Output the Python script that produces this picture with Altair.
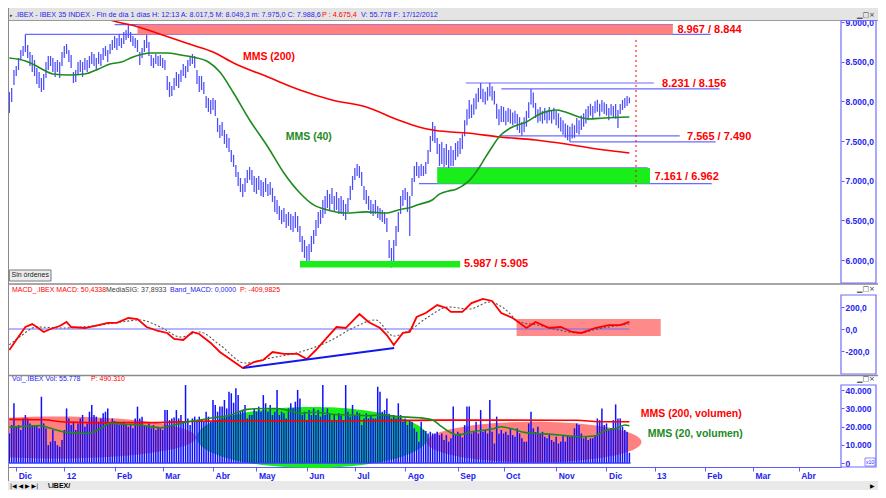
import json
import altair as alt
import pandas as pd

FONT = "Liberation Sans"

# ---------------- categories / ticks ----------------
# x = trading-session index, 0 = first session of December 2011
MONTH_POS = [0, 21, 43, 64, 86, 105, 127, 148, 170, 193, 213, 236, 258, 279, 301, 322, 342]
MONTH_LAB = ["Dic", "12", "Feb", "Mar", "Abr", "May", "Jun", "Jul", "Ago",
             "Sep", "Oct", "Nov", "Dic", "13", "Feb", "Mar", "Abr"]
PRICE_TICKS = [6000, 6500, 7000, 7500, 8000, 8500, 9000]
MACD_TICKS = [-200, 0, 200]
VOL_TICKS = [0, 10, 20, 30, 40]

# ---------------- daily bars (first bar = session -3) ----------------
FIRST_DAY = -3
HIGH = [8118, 8168, 8395, 8445, 8546, 8647, 8697, 8844, 8710, 8622, 8584, 8521, 8420, 8370, 8294, 8345, 8496, 8571, 8571, 8546, 8496, 8521, 8496, 8622,
        8697, 8723, 8647, 8584, 8370, 8395, 8496, 8521, 8496, 8546, 8521, 8571, 8622, 8597, 8546, 8622, 8597, 8672, 8697, 8647, 8723, 8773,
        8823, 8798, 8849, 8798, 8874, 8899, 8967, 8874, 8823, 8798, 8773, 8622, 8672, 8773, 8836, 8748, 8584, 8546, 8597, 8571, 8584,
        8546, 8521, 8319, 8244, 8193, 8294, 8370, 8345, 8395, 8471, 8445, 8521, 8571, 8597, 8571, 8395, 8319, 8319, 8244, 8067, 8042, 8017,
        8042, 8017, 7790, 7702, 7740, 7639, 7589, 7538, 7387, 7324, 7198, 7110, 7034, 6959, 7034, 7135, 7173, 7135, 7059,
        7034, 7059, 7009, 6984, 7034, 6959, 6984, 6908, 6807, 6757, 6681, 6631, 6656, 6581, 6606, 6581, 6555, 6606, 6555, 6429, 6303, 6253,
        6177, 6203, 6303, 6379, 6505, 6606, 6631, 6757, 6807, 6883, 6833, 6908, 6807, 6858, 6782, 6807, 6757, 6707, 6782, 6933, 7059,
        7160, 7210, 7185, 7110, 6933, 6883, 6807, 6757, 6707, 6757, 6681, 6656, 6631, 6606, 6530, 6253, 6152, 6253, 6429, 6606, 6807, 6883,
        6908, 6858, 6807, 7034, 7185, 7236, 7185, 7210, 7185, 7236, 7387, 7564, 7740, 7690, 7538, 7463, 7488, 7412, 7463, 7387, 7437, 7387, 7475,
        7500, 7538, 7590, 7760, 7900, 8017, 7960, 8040, 8100, 8170, 8231, 8160, 8120, 8180, 8231, 8190, 8130, 7970, 7900, 7940,
        7930, 7880, 7916, 7900, 7860, 7880, 7840, 7800, 7740, 7800, 7880, 7990, 8156, 8110, 7980, 7900, 7930, 7880, 7916, 7880, 7930, 7890, 7920,
        7880, 7850, 7800, 7760, 7720, 7700, 7680, 7720, 7700, 7790, 7760, 7820, 7850, 7900, 7940, 7970, 7940, 8000, 8020, 7970, 8017, 7990,
        7967, 7916, 7967, 7940, 7967, 7891, 7967, 8017, 8042, 8067, 8049]
LOW = [7853, 7992, 8206, 8319, 8395, 8521, 8571, 8622, 8546, 8445, 8370, 8319, 8219, 8168, 8118, 8143, 8294, 8395, 8445, 8370, 8307, 8370, 8294, 8445,
       8546, 8597, 8496, 8420, 8231, 8244, 8332, 8370, 8307, 8395, 8370, 8420, 8471, 8445, 8395, 8471, 8445, 8521, 8571, 8496, 8597, 8647,
       8672, 8647, 8697, 8672, 8723, 8773, 8798, 8748, 8697, 8672, 8622, 8458, 8546, 8622, 8672, 8571, 8445, 8420, 8471, 8445, 8445,
       8420, 8395, 8143, 8055, 8067, 8143, 8193, 8168, 8244, 8319, 8294, 8370, 8445, 8471, 8420, 8219, 8118, 8143, 8093, 7916, 7866, 7841,
       7891, 7816, 7614, 7538, 7564, 7463, 7412, 7362, 7236, 7173, 7047, 6933, 6858, 6795, 6858, 6971, 7009, 6946, 6858,
       6833, 6883, 6807, 6795, 6858, 6807, 6820, 6732, 6606, 6581, 6505, 6455, 6480, 6404, 6429, 6379, 6354, 6404, 6354, 6228, 6102, 6026,
       5987, 5990, 6102, 6203, 6303, 6404, 6455, 6530, 6581, 6656, 6631, 6707, 6606, 6631, 6581, 6581, 6555, 6505, 6606, 6757, 6883,
       7009, 7059, 7034, 6933, 6757, 6707, 6631, 6581, 6555, 6581, 6530, 6505, 6480, 6455, 6354, 6026, 5905, 5976, 6177, 6354, 6581, 6681,
       6757, 6606, 6303, 6807, 6984, 7059, 7034, 7059, 7059, 7084, 7210, 7362, 7500, 7475, 7336, 7185, 7210, 7173, 7198, 7160, 7185, 7185, 7260,
       7300, 7336, 7400, 7560, 7700, 7780, 7790, 7830, 7900, 7990, 8030, 7990, 7960, 8010, 8060, 8010, 7960, 7780, 7700, 7740,
       7740, 7700, 7740, 7720, 7700, 7720, 7640, 7600, 7565, 7610, 7680, 7790, 7960, 7920, 7790, 7730, 7750, 7720, 7760, 7720, 7760, 7720, 7770,
       7700, 7660, 7620, 7580, 7540, 7510, 7490, 7530, 7540, 7600, 7580, 7640, 7680, 7720, 7760, 7820, 7790, 7850, 7870, 7810, 7870, 7840,
       7820, 7760, 7820, 7790, 7780, 7664, 7840, 7890, 7916, 7942, 7975]
VOLUME_K = [16.2, 20.8, 32.7, 19.9, 20.8, 18.1, 24.4, 26.3, 24.4, 21.7, 20.8, 20.8, 20.8, 19.0, 36.3, 21.7, 19.0, 9.8, 11.7, 18.1, 12.0,
            9.8, 8.9, 12.6, 18.1, 29.9, 24.4, 20.8, 22.6, 18.1, 21.7, 24.4, 26.3, 19.9, 21.7, 28.1, 31.8, 26.3, 25.4, 22.6, 24.4, 27.2, 28.1, 29.9, 21.7, 24.4, 23.0,
            22.6, 20.8, 21.7, 22.6, 20.8, 19.9, 20.8, 19.0, 24.4, 30.9, 24.4, 25.4, 20.8, 19.9, 21.7, 19.0, 20.8, 18.1, 19.9, 19.0, 18.1, 29.0, 29.0, 23.5, 24.4, 25.0,
            29.0, 24.4, 26.3, 22.6, 42.7, 24.4, 20.8, 24.4, 25.4, 22.6, 25.4, 23.5, 22.6, 28.1, 25.4, 22.6, 34.5, 31.8, 28.1, 30.9, 30.9, 34.5, 29.9, 39.1, 38.2, 33.0,
            40.9, 37.2, 28.1, 29.0, 31.8, 24.4, 26.3, 26.3, 29.9, 28.1, 30.9, 28.1, 37.2, 32.7, 28.1, 31.8, 26.3, 28.1, 40.0, 26.3, 28.1, 27.2, 24.4, 29.9, 32.7, 30.0,
            33.6, 40.0, 35.4, 26.3, 28.1, 23.5, 29.0, 26.3, 29.9, 26.3, 29.0, 25.4, 42.7, 26.3, 29.9, 27.2, 23.5, 26.3, 23.5, 27.2, 26.0,
            23.5, 42.7, 28.1, 25.4, 31.8, 26.3, 28.1, 27.2, 20.8, 24.4, 27.2, 24.4, 26.3, 24.4, 24.4, 41.8, 39.1, 28.1, 29.0, 35.4, 27.0,
            24.4, 26.3, 24.4, 32.7, 26.3, 22.6, 24.4, 20.8, 23.5, 22.6, 19.0, 17.1, 11.7, 22.6, 18.1, 17.5,
            16.2, 17.1, 16.2, 16.2, 17.1,
            15.3, 16.2, 12.6, 15.3, 11.7, 13.5, 30.9, 15.3, 17.1, 16.2, 14.0,
            20.8, 30.9, 30.9, 16.2, 17.1, 22.6, 16.2, 29.0, 17.1, 18.1, 16.2, 34.5, 17.1, 10.7, 25.4, 16.0,
            18.1, 16.2, 17.1, 15.3, 19.0, 15.3, 14.4, 19.0, 16.2, 13.5, 11.7, 11.7, 21.7, 28.1, 19.0, 17.0,
            19.9, 16.2, 17.1, 14.4, 13.5, 15.3, 12.6, 11.7, 14.4, 10.7, 11.7, 15.3, 11.7, 15.3, 14.4, 15.0,
            19.0, 21.7, 20.8, 16.2, 13.5, 14.4, 12.6, 13.5, 13.5, 15.3, 24.4, 23.5, 29.9, 20.8, 21.7, 18.0,
            19.0, 23.5, 32.1, 24.4, 24.4, 19.9, 18.1, 17.1, 5.6]

# ---------------- indicator lines (read at sample sessions) ----------------
MA40_DAY = [-3, 4, 8, 12, 16, 23, 30, 36, 41, 46, 51, 59, 66, 72, 77, 84, 89, 95, 102, 110,
            117, 124, 130, 136, 144, 153, 162, 167, 173, 176, 182, 185, 189, 192, 195, 198, 202, 205, 208, 211,
            216, 223, 228, 233, 236, 240, 246, 250, 257, 268]
MA40_VAL = [8546, 8508, 8458, 8395, 8345, 8332, 8345, 8408, 8471, 8496, 8559, 8609, 8609, 8584, 8559, 8496, 8370, 8105, 7765, 7425,
            7097, 6845, 6694, 6631, 6593, 6606, 6593, 6631, 6669, 6700, 6760, 6830, 6870, 6890, 6935, 7000, 7150, 7290, 7425, 7551,
            7664, 7740, 7828, 7880, 7891, 7866, 7803, 7778, 7790, 7803]
MA200_DAY = [28, 33, 41, 53, 64, 77, 86, 95, 110, 124, 138, 153, 167, 176, 182, 190, 197, 211, 227, 243, 257, 268]
MA200_VAL = [9176, 9113, 9025, 8940, 8836, 8710, 8622, 8483, 8307, 8143, 8017, 7929, 7765, 7677, 7639, 7614, 7601, 7551, 7513, 7450, 7387, 7349]

MACD_DAY = [-3, 0, 4, 7, 9, 12, 15, 19, 22, 24, 30, 36, 40, 44, 49, 53, 57, 62, 66, 69,
            73, 77, 80, 85, 89, 94, 99, 104, 108, 112, 117, 123, 127, 131, 136, 140, 144, 150, 154, 159,
            162, 165, 169, 172, 175, 179, 184, 188, 190, 195, 199, 204, 208, 212, 217, 223, 227, 233, 238, 243,
            247, 253, 259, 264, 268]
MACD_VAL = [-191, -100, 18, 45, 18, -27, 0, 27, 64, 18, 9, 36, 55, 55, 100, 91, 18, -18, -36, -91,
            -100, -27, -45, -127, -209, -282, -355, -300, -282, -209, -227, -227, -273, -191, -73, 18, 9, 136, 64, 9,
            -55, -145, -36, -27, 109, 145, 218, 191, 155, 155, 236, 273, 255, 145, 100, 9, 64, 9, 18, -27,
            -36, 9, 36, 36, 64]
SIG_DAY = [-3, 2, 9, 20, 33, 46, 54, 63, 72, 80, 89, 100, 111, 124, 137, 148, 157, 165, 172, 180,
           189, 198, 207, 213, 220, 228, 237, 246, 254, 268]
SIG_VAL = [-145, -64, 18, 9, 27, 64, 82, 18, -73, -27, -145, -309, -264, -209, -109, 18, 82, -64, -9, 109,
           200, 182, 245, 191, 64, 36, -9, -36, 0, 45]

VMA20_DAY = [-3, 11, 15, 22, 31, 37, 41, 47, 54, 63, 69, 75, 80, 86, 92, 101, 109, 114, 120, 124,
             130, 138, 146, 153, 160, 167, 176, 182, 185, 188, 193, 199, 208, 212, 217, 222, 228, 234, 240, 246,
             253, 257, 263, 266, 268]
VMA20_VAL = [19.5, 20.5, 19.0, 16.8, 16.2, 19.0, 21.7, 21.2, 20.8, 19.3, 20.8, 22.6, 23.5, 24.8, 25.7, 29.4, 29.9, 29.9, 28.5, 27.2,
             27.8, 26.7, 26.3, 25.9, 26.3, 25.4, 24.8, 23.5, 20.8, 18.1, 15.3, 17.1, 18.6, 19.9, 18.6, 16.8, 16.2, 15.7, 15.0, 14.4,
             14.8, 17.6, 19.3, 20.8, 20.4]
VMA200_DAY = [-3, 12, 22, 40, 60, 80, 100, 130, 160, 185, 215, 245, 255, 268]
VMA200_VAL = [23.9, 23.7, 22.4, 22.1, 22.1, 22.9, 23.2, 23.0, 23.2, 23.5, 23.5, 23.4, 22.6, 22.6]

# ---------------- annotations (data units) ----------------
ZONE_X0 = [53, 184, 124]
ZONE_X1 = [287, 277, 194]
ZONE_TOP = [8967, 7161, 5987]
ZONE_BOT = [8844, 6962, 5905]
ZONE_FILL = ["#ff8080", "#1aee1a", "#1aee1a"]

LEVEL_X0 = [43, 4, 196.5, 212, 211, 242, 176, 184]
LEVEL_X1 = [287, 303.5, 278.7, 307.4, 290, 305.7, 304, 276]
LEVEL_VAL = [8967, 8844, 8231, 8156, 7565, 7490, 6962, 7161]

ZONE_TEXT = ["8.967 / 8.844", "8.231 / 8.156", "7.565 / 7.490", "7.161 / 6.962", "5.987 / 5.905"]
ZONE_TEXT_X = [289, 282.3, 293.2, 279, 195.7]
ZONE_TEXT_Y = [8905, 8219, 7547, 7043, 5951]

DOT_X, DOT_TOP, DOT_BOT = [270.9], [8773], [6908]

MACD_BOX = dict(x0=[218.7], x1=[281.7], y0=[91], y1=[-64])
TREND_X = [99.1, 165.2]
TREND_Y = [-355, -173]

ELL_X = [17.4, 129.3, 226.3]
ELL_Y = [14.0, 14.0, 11.5]

# ---------------- layout (pixels, chart-local) ----------------
W, H = 833, 459
PAD_R, PAD_B = 37, 23
X_MIN, X_MAX = -3.6, 360.5
PANEL = {
    "price": ([6000, 9000], [252, 14]),
    "macd": ([-200, 200], [343, 299]),
    "vol": ([0, 40], [455, 382]),
}
BLUE_TXT = "#2424f0"
BLUE_AX = "#5a5aff"
RED = "#ff0000"
GREEN = "#1e8a1e"


def inv(panel, px):
    dom, rng = PANEL[panel]
    return dom[0] + (px - rng[0]) * (dom[1] - dom[0]) / (rng[1] - rng[0])


def xpx(px):
    return X_MIN + px * (X_MAX - X_MIN) / W


def xpage(px):
    return xpx(px - 8)


LABEL_EXPR = f"{json.dumps(MONTH_LAB)}[indexof({json.dumps(MONTH_POS)}, datum.value)]"
XSC = alt.Scale(domain=[X_MIN, X_MAX], nice=False, zero=False)
X_AXIS = alt.Axis(values=MONTH_POS, labelExpr=LABEL_EXPR, orient="bottom", title=None, grid=False,
                  domainColor=BLUE_AX, tickColor=BLUE_AX, tickSize=4, labelColor=BLUE_TXT, labelFont=FONT,
                  labelFontSize=8.5, labelFontWeight="bold", labelAlign="left", labelBaseline="top",
                  labelOffset=2, labelPadding=0, labelOverlap=False, labelFlush=False)

AX_STYLE = dict(orient="right", title=None, grid=False, domain=False, tickColor=BLUE_AX, tickSize=3,
                labelColor=BLUE_TXT, labelFont=FONT, labelFontSize=8.5, labelFontWeight="bold",
                labelPadding=1, labelOverlap=False, labelFlush=False)
PRICE_AXIS = alt.Axis(values=PRICE_TICKS,
                      labelExpr="format(floor(datum.value/1000),'d') + '.' + format(datum.value % 1000,'03d') + ',0'",
                      **AX_STYLE)
MACD_AXIS = alt.Axis(values=MACD_TICKS, labelExpr="datum.value + ',0'", **AX_STYLE)
VOL_AXIS = alt.Axis(values=VOL_TICKS, labelExpr="datum.value == 0 ? '0' : datum.value + '.000'", **AX_STYLE)


def ex(f):
    return alt.X(f"{f}:Q", scale=XSC, axis=X_AXIS)


def ey(f, panel, axis=None):
    dom, rng = PANEL[panel]
    return alt.Y(f"{f}:Q", scale=alt.Scale(domain=dom, range=rng, nice=False, zero=False), axis=axis)


def line_layer(days, vals, panel, color, width, dash=None, interp="monotone"):
    df = pd.DataFrame({"d": days, "v": vals})
    kw = dict(color=color, strokeWidth=width, interpolate=interp)
    if dash:
        kw["strokeDash"] = dash
    return alt.Chart(df).mark_line(**kw).encode(x=ex("d"), y=ey("v", panel))


def text_layer(xs, ys, texts, panel, color, size, weight="normal", align="left", font=FONT):
    df = pd.DataFrame({"x": xs, "y": ys, "t": texts})
    return alt.Chart(df).mark_text(align=align, baseline="middle", color=color, fontSize=size,
                                   fontWeight=weight, font=font).encode(x=ex("x"), y=ey("y", panel), text="t:N")


def rect_layer(x0, x1, y0, y1, panel, **style):
    df = pd.DataFrame({"x0": x0, "x1": x1, "y0": y0, "y1": y1})
    return alt.Chart(df).mark_rect(**style).encode(x=ex("x0"), x2=alt.X2("x1:Q"),
                                                   y=ey("y0", panel), y2=alt.Y2("y1:Q"))


def hrule_layer(x0, x1, yv, panel, **style):
    df = pd.DataFrame({"x0": x0, "x1": x1, "y": yv})
    return alt.Chart(df).mark_rule(**style).encode(x=ex("x0"), x2=alt.X2("x1:Q"), y=ey("y", panel))


def vrule_layer(xv, y0, y1, panel, **style):
    df = pd.DataFrame({"x": xv, "y0": y0, "y1": y1})
    return alt.Chart(df).mark_rule(**style).encode(x=ex("x"), y=ey("y0", panel), y2=alt.Y2("y1:Q"))


def ellipse_layer(xc, yc, width_px, ratio, color, opacity):
    path = f"M -1 0 A 1 {ratio} 0 1 1 1 0 A 1 {ratio} 0 1 1 -1 0 Z"
    df = pd.DataFrame({"x": [xc], "y": [yc]})
    return alt.Chart(df).mark_point(shape=path, size=width_px ** 2, filled=True, color=color,
                                    opacity=opacity, strokeWidth=0).encode(x=ex("x"), y=ey("y", "vol"))


days = list(range(FIRST_DAY, FIRST_DAY + len(HIGH)))
ohlc = pd.DataFrame({"d": days, "hi": HIGH, "lo": LOW})
vol = pd.DataFrame({"d": days, "v": VOLUME_K, "base": [0] * len(days)})

layers = []
# --- volume panel background shapes
layers.append(ellipse_layer(ELL_X[0], ELL_Y[0], 280, 0.15, "#ff8080", 1))
layers.append(ellipse_layer(ELL_X[1], ELL_Y[1], 231, 0.264, "#16f016", 1))
layers.append(ellipse_layer(ELL_X[2], ELL_Y[2], 215, 0.189, "#ff8080", 1))
# --- MACD pink box
layers.append(rect_layer(MACD_BOX["x0"], MACD_BOX["x1"], MACD_BOX["y0"], MACD_BOX["y1"], "macd",
                         color="#ff8a8a"))
# --- price level lines
layers.append(hrule_layer(LEVEL_X0, LEVEL_X1, LEVEL_VAL, "price", color="#6a6aff", strokeWidth=1.2))
# --- price bars
layers.append(alt.Chart(ohlc).mark_rule(color="#4c4cff", strokeWidth=1.25).encode(
    x=ex("d"), y=ey("lo", "price", PRICE_AXIS), y2=alt.Y2("hi:Q")))
# --- zones
zdf = pd.DataFrame({"x0": ZONE_X0, "x1": ZONE_X1, "y0": ZONE_TOP, "y1": ZONE_BOT, "c": ZONE_FILL})
layers.append(alt.Chart(zdf).mark_rect().encode(
    x=ex("x0"), x2=alt.X2("x1:Q"), y=ey("y0", "price"), y2=alt.Y2("y1:Q"),
    color=alt.Color("c:N", scale=None)))
layers.append(vrule_layer(DOT_X, DOT_TOP, DOT_BOT, "price", color=RED, strokeWidth=1, strokeDash=[2, 3]))
# --- moving averages
layers.append(line_layer(MA200_DAY, MA200_VAL, "price", RED, 1.6))
layers.append(line_layer(MA40_DAY, MA40_VAL, "price", GREEN, 1.6))
layers.append(text_layer(ZONE_TEXT_X, ZONE_TEXT_Y, ZONE_TEXT, "price", RED, 11, "bold"))
layers.append(text_layer([99.1], [8559], ["MMS (200)"], "price", RED, 10.5, "bold"))
layers.append(text_layer([117.8], [7551], ["MMS (40)"], "price", GREEN, 10.5, "bold"))

# --- MACD panel
layers.append(hrule_layer([X_MIN], [268], [0], "macd", color="#6a6aff", strokeWidth=1.2))
layers.append(line_layer(SIG_DAY, SIG_VAL, "macd", "#555555", 1.1, dash=[2, 2]))
layers.append(line_layer(MACD_DAY, MACD_VAL, "macd", RED, 1.8, interp="linear"))
layers.append(alt.Chart(pd.DataFrame({"d": TREND_X, "v": TREND_Y})).mark_line(color="#1515ee", strokeWidth=2)
              .encode(x=ex("d"), y=ey("v", "macd", MACD_AXIS)))

# --- volume panel
layers.append(alt.Chart(vol).mark_rule(color="#1010ff", strokeWidth=1.5).encode(
    x=ex("d"), y=ey("v", "vol", VOL_AXIS), y2=alt.Y2("base:Q")))
layers.append(hrule_layer([X_MIN], [268.5], [0], "vol", color="#3a3aff", strokeWidth=1.5))
layers.append(line_layer(VMA200_DAY, VMA200_VAL, "vol", RED, 1.6))
layers.append(line_layer(VMA20_DAY, VMA20_VAL, "vol", GREEN, 1.6))
layers.append(text_layer([273], [26.8], ["MMS (200, volumen)"], "vol", RED, 10.5, "bold"))
layers.append(text_layer([276], [15.9], ["MMS (20, volumen)"], "vol", GREEN, 10.5, "bold"))

# --- window chrome: title bar, headers, separators, axis boxes, tabs
x_left, x_right = X_MIN, xpx(870)
layers.append(rect_layer([x_left], [x_right], [inv("price", 0)], [inv("price", 12)], "price", color="#e4e4e4"))
layers.append(hrule_layer([x_left], [x_right], [inv("price", 12.5)], "price", color="#9a9a9a", strokeWidth=1))
ty = inv("price", 6.5)
layers.append(text_layer([xpage(10)], [ty], ["▸"], "price", "#333333", 5, font="DejaVu Sans"))
layers.append(text_layer([xpage(15)], [ty],
                         [".IBEX - IBEX 35 INDEX - Fin de día 1 días  H: 12:13  A: 8.017,5  M: 8.049,3  m: 7.975,0  C: 7.988,6"],
                         "price", BLUE_TXT, 7.2))
layers.append(text_layer([xpage(322)], [ty], ["P : 4.675,4"], "price", RED, 7.2))
layers.append(text_layer([xpage(361)], [ty], ["V: 55.778  F: 17/12/2012"], "price", BLUE_TXT, 7.2))

layers.append(hrule_layer([x_left], [x_right], [inv("price", 276)], "price", color="#8a8a8a", strokeWidth=1.5))
layers.append(hrule_layer([x_left], [x_right], [inv("macd", 367.5)], "macd", color="#8a8a8a", strokeWidth=1.5))
layers.append(vrule_layer([X_MIN], [inv("price", 0)], [inv("price", 482)], "price", color="#8a8a8a", strokeWidth=2))

hy = inv("macd", 282)
layers.append(text_layer([xpage(12)], [hy], ["MACD_.IBEX MACD: 50,4338"], "macd", RED, 7))
layers.append(text_layer([xpage(106)], [hy], ["MediaSIG: 37,8933"], "macd", "#404040", 7))
layers.append(text_layer([xpage(170)], [hy], ["Band_MACD: 0,0000"], "macd", BLUE_TXT, 7))
layers.append(text_layer([xpage(240)], [hy], ["P: -409,9825"], "macd", RED, 7))
vy = inv("vol", 371)
layers.append(text_layer([xpage(12)], [vy], ["Vol_.IBEX Vol: 55.778"], "vol", BLUE_TXT, 7))
layers.append(text_layer([xpage(91)], [vy], ["P: 490.310"], "vol", RED, 7))

# window buttons of each pane
layers.append(text_layer([xpage(857)], [ty], ["▁□×"], "price", "#333333", 7, font="DejaVu Sans"))
layers.append(text_layer([xpage(857)], [inv("macd", 281)], ["▁□×"], "macd", "#333333", 7, font="DejaVu Sans"))
layers.append(text_layer([xpage(857)], [inv("vol", 371)], ["▁□×"], "vol", "#333333", 7, font="DejaVu Sans"))

box_style = dict(fillOpacity=0, stroke="#6e6eff", strokeWidth=1.2)
layers.append(rect_layer([xpx(W)], [xpx(868)], [inv("price", 12.5)], [inv("price", 275)], "price", **box_style))
layers.append(rect_layer([xpx(W)], [xpx(868)], [inv("macd", 287)], [inv("macd", 366)], "macd", **box_style))
layers.append(rect_layer([xpx(W)], [xpx(868)], [inv("vol", 377)], [inv("vol", 459)], "vol", **box_style))
layers.append(rect_layer([xpx(857)], [xpx(867)], [inv("vol", 450)], [inv("vol", 458)], "vol",
                         fillOpacity=0, stroke="#6e6eff", strokeWidth=0.8))
layers.append(text_layer([xpx(862)], [inv("vol", 454)], ["x10"], "vol", BLUE_TXT, 5, align="center"))

layers.append(rect_layer([-3], [15.2], [5874], [5735], "price", color="#ececec", stroke="#7a7a7a", strokeWidth=1))
layers.append(text_layer([6.1], [5805], ["Sin órdenes"], "price", "#202020", 7, align="center"))

layers.append(rect_layer([x_left], [x_right], [inv("vol", 473)], [inv("vol", 482)], "vol", color="#e9e9e9"))
layers.append(text_layer([xpage(10)], [inv("vol", 478)], ["|◀ ◀ ▶ ▶|"], "vol", "#000000", 6, font="DejaVu Sans"))
layers.append(text_layer([xpage(48)], [inv("vol", 478)], ["\\.IBEX/"], "vol", "#000000", 7, "bold"))
layers.append(text_layer([xpage(870)], [inv("vol", 478)], ["▶"], "vol", "#000000", 6, font="DejaVu Sans"))

chart = alt.layer(*layers).resolve_scale(y="independent").properties(
    width=W, height=H,
    autosize=alt.AutoSizeParams(type="none"),
    padding={"left": 0, "top": 0, "right": PAD_R, "bottom": PAD_B},
    background="white",
).configure_view(stroke=None)

chart.save("out.html", embed_options={"renderer": "svg", "actions": False})
